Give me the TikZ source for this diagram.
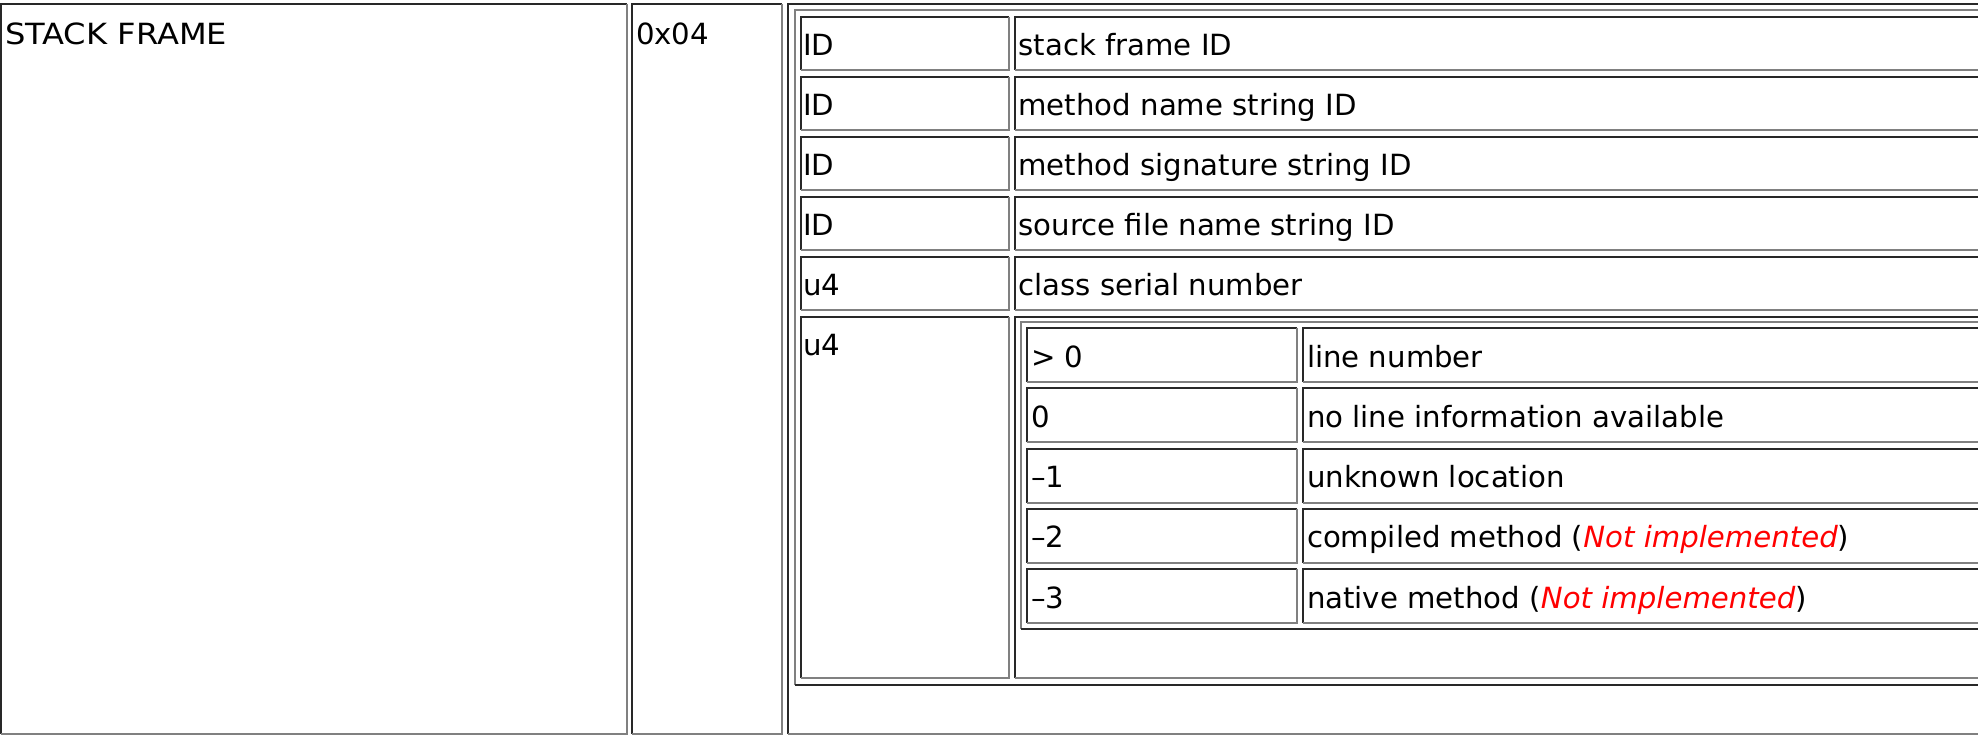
\documentclass[tikz,border=0pt]{standalone}
\usepackage{fontspec}
\setmainfont{DejaVu Sans}
\newfontfamily\widefont[FakeStretch=1.1]{DejaVu Sans}
\definecolor{bdark}{RGB}{40,40,40}
\definecolor{blight}{RGB}{128,128,128}
\definecolor{nired}{RGB}{255,0,0}
% inset cell border: top/left dark, bottom/right light
\newcommand\cellbox[4]{%
  \draw[bdk] (#1,#4) -- (#1,#2) -- (#3,#2);
  \draw[blt] (#3,#2) -- (#3,#4) -- (#1,#4);}
% outset table border: top/left light, bottom/right dark
\newcommand\tabbox[4]{%
  \draw[blt] (#1,#4) -- (#1,#2) -- (#3,#2);
  \draw[bdk] (#3,#2) -- (#3,#4) -- (#1,#4);}
\newcommand\notimpl{{\color{nired}\itshape Not implemented}}
\begin{document}
\begin{tikzpicture}[x=0.75pt,y=-0.75pt,
  bdk/.style={draw=bdark,line width=1.5pt},
  blt/.style={draw=blight,line width=1.5pt},
  txt/.style={anchor=base west,inner sep=0pt,outer sep=0pt,
    font=\fontsize{21.9pt}{26pt}\selectfont}]
\useasboundingbox (0,0) rectangle (1978,740);
\clip (0,0) rectangle (1978,740);
\fill[white] (0,0) rectangle (1978,740);
% outer row
\cellbox{1}{4}{627}{734}
\cellbox{632}{4}{782}{734}
\cellbox{788.3}{4}{2100}{734}
% nested table
\tabbox{794.5}{10}{2100}{685}
\foreach \k in {0,...,4}{
  \pgfmathsetmacro\tp{16.7+60*\k}
  \pgfmathsetmacro\bt{\tp+53.5}
  \cellbox{800.7}{\tp}{1009}{\bt}
  \cellbox{1015}{\tp}{2100}{\bt}
}
\cellbox{800.7}{316.5}{1009}{678.3}
\cellbox{1015}{316.5}{2100}{678.3}
% inner table
\tabbox{1020.7}{321.7}{2100}{629}
\foreach \k in {0,...,4}{
  \pgfmathsetmacro\tp{328+60.3*\k}
  \pgfmathsetmacro\bt{\tp+54}
  \cellbox{1026.7}{\tp}{1296.7}{\bt}
  \cellbox{1302.7}{\tp}{2100}{\bt}
}
% texts
\node[txt] (sf) at (5,44) {\widefont STACK FRAME};
\node[txt] (tag) at (636,44) {0x04};
\node[txt] (t1) at (803,55.7) {ID};
\node[txt] (d1) at (1018.5,55.7) {stack frame ID};
\node[txt] (t2) at (803,115.7) {ID};
\node[txt] (d2) at (1018.5,115.7) {method name string ID};
\node[txt] (t3) at (803,175.7) {ID};
\node[txt] (d3) at (1018.5,175.7) {method signature string ID};
\node[txt] (t4) at (803,235.7) {ID};
\node[txt] (d4) at (1018.5,235.7) {source file name string ID};
\node[txt] (t5) at (803,295.7) {u4};
\node[txt] (d5) at (1018.5,295.7) {class serial number};
\node[txt] (t6) at (803,355.5) {u4};
\node[txt] (v1) at (1031,367) {> 0};
\node[txt] (m1) at (1307,367) {line number};
\node[txt] (v2) at (1031,427.3) {0};
\node[txt] (m2) at (1307,427.3) {no line information available};
\node[txt] (v3) at (1031,487.6) {–1};
\node[txt] (m3) at (1307,487.6) {unknown location};
\node[txt] (v4) at (1031,547.9) {–2};
\node[txt] (m4) at (1307,547.9) {compiled method (\notimpl)};
\node[txt] (v5) at (1031,608.2) {–3};
\node[txt] (m5) at (1307,608.2) {native method (\notimpl)};
\end{tikzpicture}
\end{document}
